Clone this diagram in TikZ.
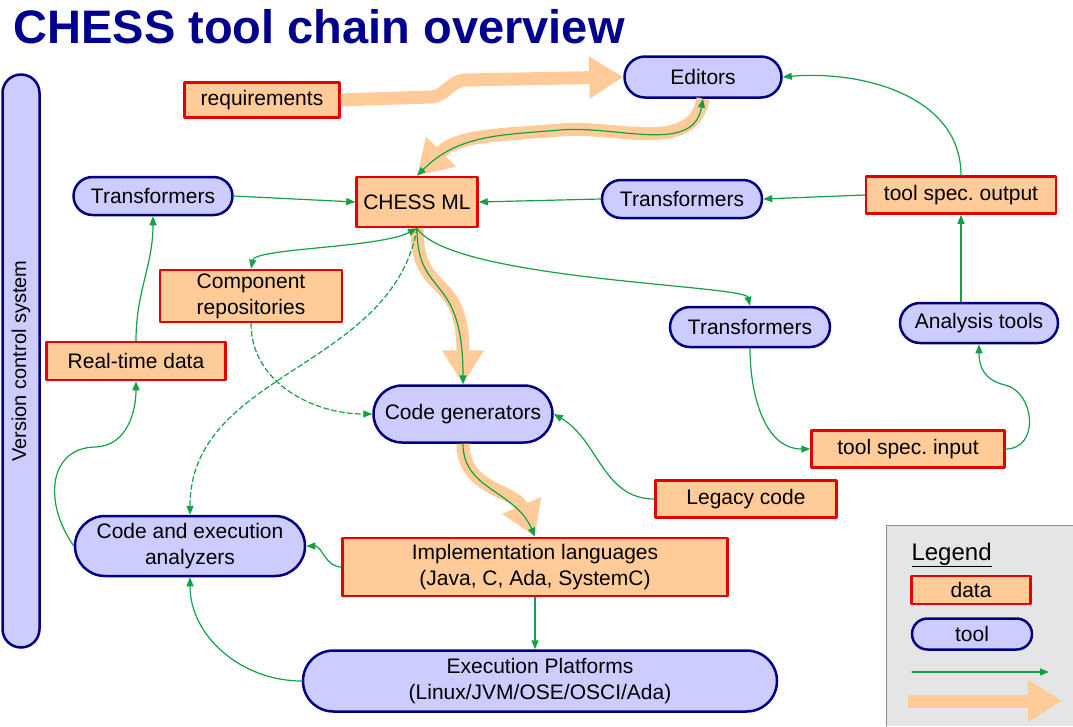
\documentclass[tikz,border=0pt]{standalone}
\usepackage{fontspec}
\setmainfont{Liberation Sans}
\usetikzlibrary{arrows.meta,shapes.misc}
\definecolor{datafill}{RGB}{255,204,153}
\definecolor{dataline}{RGB}{230,0,0}
\definecolor{toolfill}{RGB}{204,204,255}
\definecolor{toolline}{RGB}{0,0,128}
\definecolor{linkgreen}{RGB}{20,160,70}
\definecolor{titleblue}{RGB}{0,0,140}

\begin{document}
\begin{tikzpicture}[line cap=round,line join=round,x=1pt,y=1pt,
    font=\fontsize{21}{26}\selectfont,
    datanode/.style={draw=dataline,fill=datafill,line width=2.5pt,inner sep=0pt,align=center},
    toolnode/.style={rounded rectangle,draw=toolline,fill=toolfill,line width=2.5pt,inner sep=0pt,align=center},
    link/.style={draw=linkgreen,line width=1.2pt,-{Triangle[length=9pt,width=7pt]}},
    twoway/.style={link,{Triangle[length=9pt,width=7pt]}-{Triangle[length=9pt,width=7pt]}},
    bigflow/.style={draw=datafill,line width=13pt,line cap=butt,-{Triangle[length=34pt,width=40pt]}}]
            \useasboundingbox (0,0) rectangle (1073,-726);
            \node[anchor=base west,font=\fontsize{47}{56}\selectfont\bfseries,text=titleblue] (title) at (10,-43) {CHESS tool chain overview};
            \node[toolnode,minimum width=573pt,minimum height=37pt,rotate=90,font=\fontsize{20}{24}\selectfont] (vcs) at (21,-361) {Version control system};
            \node[datanode,minimum width=155pt,minimum height=35pt] (req) at (262,-100) {requirements};
            \node[toolnode,minimum width=157pt,minimum height=41pt] (edit) at (703,-77) {Editors};
            \node[toolnode,minimum width=159pt,minimum height=38pt] (transL) at (153,-196) {Transformers};
            \node[datanode,minimum width=121pt,minimum height=50pt] (chess) at (417,-202) {CHESS ML};
            \node[toolnode,minimum width=160pt,minimum height=38pt] (transM) at (682,-199) {Transformers};
            \node[datanode,minimum width=190pt,minimum height=37pt] (tsout) at (961,-195) {tool spec.\ output};
            \node[datanode,minimum width=182pt,minimum height=52pt] (comp) at (251,-296) {Component\\repositories};
            \node[datanode,minimum width=179pt,minimum height=38pt] (rt) at (136,-361) {Real-time data};
            \node[toolnode,minimum width=160pt,minimum height=40pt] (transR) at (750,-327) {Transformers};
            \node[toolnode,minimum width=158pt,minimum height=40pt] (ana) at (979,-323) {Analysis tools};
            \node[toolnode,minimum width=179pt,minimum height=57pt] (gen) at (463,-414) {Code generators};
            \node[datanode,minimum width=193pt,minimum height=37pt] (tsin) at (908,-449) {tool spec.\ input};
            \node[datanode,minimum width=181pt,minimum height=37pt] (legacy) at (746,-499) {Legacy code};
            \node[toolnode,minimum width=230pt,minimum height=60pt] (cea) at (190,-546) {Code and execution\\analyzers};
            \node[datanode,minimum width=385pt,minimum height=58pt] (impl) at (535,-567) {Implementation languages\\(Java, C, Ada, SystemC)};
            \node[toolnode,minimum width=474pt,minimum height=61pt] (plat) at (540,-681) {Execution Platforms\\(Linux/JVM/OSE/OSCI/Ada)};

            \fill[black!10] (886,-525) rectangle (1073,-726);
            \draw[black!45,line width=1pt] (1073,-525) -- (886,-525) -- (886,-726);
            \node[anchor=base west,font=\fontsize{24}{28}\selectfont] (leg) at (908,-560) {\underline{Legend}};
            \node[datanode,minimum width=119pt,minimum height=28pt] (legdata) at (971,-590) {data};
            \node[toolnode,minimum width=120pt,minimum height=31pt] (legtool) at (972,-634) {tool};
            \coordinate (lg1) at (912,-672);
            \coordinate (lg2) at (1049,-672);
            \coordinate (lf1) at (908,-701);
            \coordinate (lf2) at (1062,-701);
            \draw[link] (lg1) -- (lg2);
            \draw[bigflow] (lf1) -- (lf2);

            \draw[bigflow] (req.east) -- (430,-97) to[out=0,in=180] (466,-80) -- (edit.west);
            \draw[bigflow] (edit.south) to[out=-100,in=5] (560,-130) to[out=185,in=45] (chess.north);
            \draw[bigflow] (chess.south) .. controls (417,-300) and (463,-270) .. (gen.north);
            \draw[bigflow] (gen.south) .. controls (463,-490) and (515,-490) .. (impl.north);

            \draw[twoway] (edit.south) to[out=-100,in=5] (560,-130) to[out=185,in=45] (chess.north);
            \draw[link] (chess.south) .. controls (417,-300) and (463,-270) .. (gen.north);
            \draw[link] (gen.south) .. controls (463,-490) and (515,-490) .. (impl.north);
            \draw[link] (transL.east) -- (chess.west);
            \draw[link] (transM.west) -- (chess.east);
            \draw[link] (tsout.west) -- (transM.east);
            \draw[link] (tsout.north) to[out=90,in=5] (edit.east);
            \draw[link] (ana.north -| tsout) -- (tsout.south);
            \draw[link] (tsin.east) .. controls (1040,-449) and (1035,-392) .. (1005,-385) .. controls (983,-380) and (979,-365) .. (ana.south);
            \draw[link] (transR.south) to[out=-90,in=180] (tsin.west);
            \draw[link] (chess.south) .. controls (450,-280) and (745,-285) .. (transR.north);
            \draw[twoway] (chess.south) .. controls (380,-248) and (255,-248) .. (comp.north);
            \draw[link,dash pattern=on 5pt off 3pt] (chess.south) to[out=-100,in=90] (cea.north);
            \draw[link,dash pattern=on 5pt off 3pt] (comp.south) to[out=-90,in=180] (gen.west);
            \draw[link] (legacy.west) to[out=180,in=-30] (gen.east);
            \draw[link] (impl.west) to[out=180,in=0] (cea.east);
            \draw[link] (impl.south) -- (impl.south |- plat.north);
            \draw[link] (plat.west) to[out=180,in=-90] (cea.south);
            \draw[link] (cea.west) .. controls (42,-500) and (50,-448) .. (95,-447) .. controls (128,-446) and (136,-410) .. (rt.south);
            \draw[link] (rt.north) to[out=90,in=-90] (transL.south);
        \end{tikzpicture}
\end{document}
